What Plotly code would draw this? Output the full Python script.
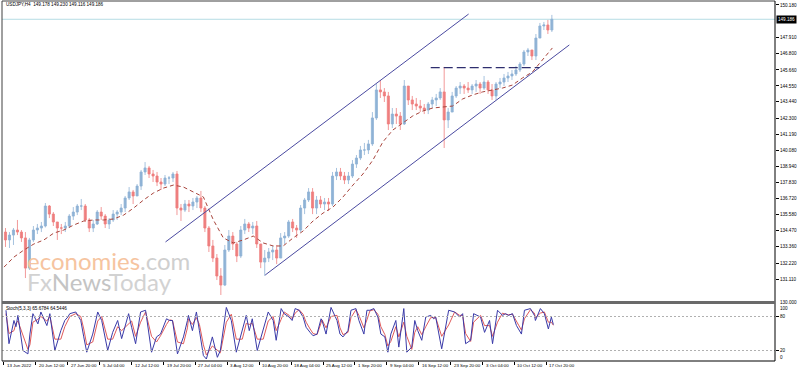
import plotly.graph_objects as go

# ---------------- data (USDJPY H4, one entry per 4-bar block) ----------------
opens = [134.38, 133.83, 134.17, 134.52, 134.38, 133.97, 131.87, 133.83, 134.52, 134.66,
         134.80, 136.19, 135.63, 135.08, 134.66, 134.66, 134.80, 135.49, 135.77, 136.19,
         136.19, 135.22, 134.66, 134.94, 135.77, 135.49, 134.94, 135.22, 135.63, 135.77,
         136.05, 136.75, 137.17, 136.89, 137.58, 138.56, 138.84, 138.42, 138.28, 137.86,
         137.72, 138.14, 138.14, 138.42, 136.05, 135.91, 136.33, 136.19, 136.47, 136.75,
         136.05, 134.66, 133.41, 132.57, 131.32, 130.69, 133.13, 134.10, 133.55, 132.71,
         134.52, 134.94, 134.66, 134.80, 133.55, 132.29, 132.57, 132.99, 133.13, 132.57,
         133.97, 134.10, 135.08, 134.66, 134.52, 136.05, 136.61, 137.17, 136.05, 136.61,
         136.33, 136.47, 136.33, 138.28, 138.56, 138.28, 138.00, 138.28, 139.11, 139.53,
         140.09, 140.09, 140.51, 142.32, 144.27, 144.13, 143.85, 141.90, 142.59, 142.45,
         141.90, 144.54, 143.57, 143.29, 143.15, 143.01, 142.87, 143.29, 143.57, 143.71,
         144.13, 142.18, 142.73, 143.85, 144.40, 144.54, 144.40, 144.27, 144.54, 144.68,
         144.40, 144.82, 144.27, 143.85, 144.68, 144.82, 145.10, 145.24, 145.38, 145.66,
         146.07, 146.91, 147.05, 146.63, 147.88, 148.72, 148.79, 148.44]
closes = [133.83, 134.17, 134.52, 134.38, 133.97, 131.87, 133.83, 134.52, 134.66, 134.80,
          136.19, 135.63, 135.08, 134.66, 134.66, 134.80, 135.49, 135.77, 136.19, 136.19,
          135.22, 134.66, 134.94, 135.77, 135.49, 134.94, 135.22, 135.63, 135.77, 136.05,
          136.75, 137.17, 136.89, 137.58, 138.56, 138.84, 138.42, 138.28, 137.86, 137.72,
          138.14, 138.14, 138.42, 136.05, 135.91, 136.33, 136.19, 136.47, 136.75, 136.05,
          134.66, 133.41, 132.57, 131.32, 130.69, 133.13, 134.10, 133.55, 132.71, 134.52,
          134.94, 134.66, 134.80, 133.55, 132.29, 132.57, 132.99, 133.13, 132.57, 133.97,
          134.10, 135.08, 134.66, 134.52, 136.05, 136.61, 137.17, 136.05, 136.61, 136.33,
          136.47, 136.33, 138.28, 138.56, 138.28, 138.00, 138.28, 139.11, 139.53, 140.09,
          140.09, 140.51, 142.32, 144.27, 144.13, 143.85, 141.90, 142.59, 142.45, 141.90,
          144.54, 143.57, 143.29, 143.15, 143.01, 142.87, 143.29, 143.57, 143.71, 144.13,
          142.18, 142.73, 143.85, 144.40, 144.54, 144.40, 144.27, 144.54, 144.68, 144.40,
          144.82, 144.27, 143.85, 144.68, 144.82, 145.10, 145.24, 145.38, 145.66, 146.07,
          146.91, 147.05, 146.63, 147.88, 148.72, 148.79, 148.44, 149.186]
highs = [134.66, 134.38, 134.66, 135.22, 134.52, 134.38, 133.97, 134.80, 134.94, 135.08,
         136.40, 136.26, 135.77, 135.08, 134.94, 135.08, 135.63, 136.12, 136.33, 136.68,
         136.33, 135.35, 135.22, 135.91, 136.12, 135.63, 135.35, 135.91, 135.91, 136.33,
         136.89, 137.51, 137.31, 137.72, 138.70, 139.25, 138.98, 138.70, 138.56, 138.14,
         138.35, 138.28, 138.56, 138.63, 136.33, 136.61, 136.61, 136.75, 136.89, 137.24,
         136.19, 134.80, 133.83, 132.85, 131.87, 133.48, 134.52, 134.38, 133.69, 134.80,
         135.29, 135.08, 135.08, 135.15, 133.55, 133.13, 133.27, 133.41, 133.48, 134.31,
         134.38, 135.22, 135.29, 134.87, 136.26, 136.75, 137.44, 137.44, 136.89, 136.89,
         136.75, 136.75, 138.56, 138.84, 138.84, 138.56, 138.56, 139.39, 139.74, 140.37,
         140.58, 140.79, 142.73, 144.68, 144.96, 144.40, 144.13, 143.01, 143.01, 142.73,
         144.96, 144.54, 143.85, 143.71, 143.57, 143.29, 143.43, 143.78, 143.99, 144.40,
         145.87, 143.01, 144.13, 144.54, 144.82, 144.68, 144.82, 144.68, 144.96, 144.82,
         145.24, 144.96, 144.68, 144.82, 145.10, 145.38, 145.52, 145.66, 145.94, 146.21,
         147.05, 147.19, 147.05, 148.16, 148.93, 149.00, 149.14, 149.49]
lows = [133.34, 133.27, 133.48, 134.17, 133.69, 131.18, 131.74, 133.69, 134.24, 134.38,
        134.70, 135.35, 134.80, 133.83, 134.24, 134.38, 134.66, 135.22, 135.56, 135.91,
        135.08, 134.38, 134.38, 134.87, 135.22, 134.66, 134.59, 135.08, 135.22, 135.56,
        135.77, 136.61, 136.33, 136.89, 137.31, 138.35, 138.14, 137.86, 137.58, 137.31,
        137.58, 137.72, 137.86, 135.56, 135.15, 135.77, 135.77, 135.91, 136.05, 135.77,
        134.38, 132.99, 132.29, 131.04, 130.00, 130.62, 132.99, 133.13, 132.29, 132.57,
        134.24, 134.38, 134.24, 133.27, 131.87, 131.32, 132.29, 132.43, 132.15, 132.57,
        133.55, 133.97, 134.38, 133.97, 134.38, 135.63, 136.47, 135.63, 135.63, 136.05,
        135.91, 135.84, 136.19, 138.00, 138.00, 137.72, 137.72, 138.14, 138.84, 139.39,
        139.74, 139.81, 140.37, 142.18, 143.71, 143.43, 141.48, 141.62, 141.90, 141.48,
        141.83, 143.22, 142.87, 142.87, 142.73, 142.59, 142.59, 143.01, 143.15, 143.57,
        140.23, 141.62, 142.73, 143.71, 143.99, 143.99, 144.06, 143.99, 144.13, 143.99,
        144.27, 143.99, 143.57, 143.57, 144.40, 144.54, 144.82, 144.96, 145.24, 145.52,
        145.94, 146.63, 146.35, 146.35, 147.88, 148.44, 148.16, 148.30]
candle_x = [1.5 + 4 * k for k in range(len(closes))]   # bar index of each 4-bar block

# moving average (red dashed), every 10 bars
ma_x = list(range(0, 551, 10))
ma_vals = [131.94, 132.64, 133.13, 133.55, 133.83, 134.31, 134.52, 134.87, 135.15, 135.22,
           135.22, 135.29, 135.56, 136.05, 136.61, 137.10, 137.44, 137.65, 137.51, 137.17,
           136.82, 135.22, 133.97, 133.62, 133.83, 134.10, 133.62, 133.41, 133.41, 133.97,
           134.45, 135.15, 135.70, 136.12, 136.82, 137.65, 138.42, 139.39, 140.65, 141.48,
           141.97, 142.46, 142.80, 143.01, 143.08, 143.15, 143.64, 143.92, 144.13, 144.27,
           144.40, 144.61, 145.10, 145.52, 146.35, 147.19]

# stochastic (5,3,3) turning points
stoch_x = [2, 5, 10, 12, 14, 19, 24, 26, 29, 34,
           37, 43, 46, 51, 57, 61, 64, 66, 72, 77,
           80, 83, 89, 94, 98, 104, 109, 114, 118, 125,
           128, 132, 137, 142, 148, 153, 157, 163, 166, 169,
           174, 180, 184, 185, 189, 193, 196, 200, 203, 209,
           214, 217, 223, 228, 233, 239, 243, 246, 249, 254,
           260, 265, 270, 273, 278, 281, 286, 289, 292, 296,
           300, 303, 307, 310, 314, 318, 319, 323, 328, 334,
           337, 340, 345, 348, 353, 356, 361, 364, 367, 371,
           375, 378, 382, 385, 388, 393, 396, 401, 404, 409,
           412, 415, 419, 423, 428, 431, 433, 439, 446, 452,
           457, 460, 463, 468, 471, 478, 482, 487, 490, 495,
           500, 503, 506, 510, 514, 519, 522, 528, 532, 533,
           538, 542, 546, 549, 551]
stoch_k = [91, 32, 73, 62, 82, 20, 14, 49, 85, 67,
           88, 64, 85, 20, 55, 73, 79, 85, 88, 73,
           44, 17, 49, 88, 73, 20, 52, 73, 41, 85,
           61, 32, 88, 91, 17, 44, 49, 76, 73, 73,
           14, 44, 73, 82, 55, 88, 55, 11, 5, 44,
           8, 20, 96, 73, 17, 55, 82, 55, 76, 20,
           55, 88, 73, 38, 94, 85, 79, 73, 94, 91,
           79, 61, 52, 46, 49, 76, 73, 49, 96, 73,
           49, 44, 55, 91, 94, 73, 49, 91, 91, 94,
           79, 49, 44, 17, 49, 73, 26, 94, 17, 26,
           73, 55, 38, 79, 82, 76, 79, 23, 91, 88,
           79, 85, 32, 38, 85, 79, 52, 73, 32, 91,
           82, 85, 82, 85, 64, 49, 91, 94, 82, 73,
           94, 85, 58, 79, 65.68]
stoch_d = [85, 50, 55, 68, 72, 45, 22, 30, 70, 75,
           80, 72, 80, 40, 40, 62, 74, 80, 85, 80,
           58, 30, 35, 72, 80, 40, 40, 62, 55, 68,
           72, 45, 70, 88, 45, 35, 46, 66, 74, 73,
           35, 32, 60, 76, 66, 78, 66, 30, 12, 28,
           20, 16, 70, 84, 40, 40, 68, 66, 68, 40,
           40, 72, 80, 55, 75, 88, 82, 76, 86, 92,
           84, 70, 58, 50, 48, 66, 74, 60, 80, 82,
           60, 48, 52, 78, 92, 82, 60, 74, 90, 92,
           84, 62, 48, 28, 36, 62, 44, 70, 45, 22,
           52, 62, 48, 62, 78, 78, 78, 45, 65, 88,
           82, 82, 50, 36, 70, 82, 64, 64, 45, 70,
           86, 84, 83, 84, 72, 56, 76, 92, 86, 78,
           86, 88, 70, 70, 64.54]

# drawn objects (bar index, price)
upper_x = [162, 466]
upper_y = [133.69, 149.55]
lower_x = [262, 567]
lower_y = [131.39, 147.40]
level_x = [428, 537]
level_y = [145.82, 145.82]
last_price = 149.186

price_ticks = [150.180, 147.910, 146.800, 145.660, 144.550, 143.440, 142.300, 141.190, 140.080,
               138.940, 137.830, 136.720, 135.580, 134.470, 133.360, 132.220, 131.110]
date_tick_bars = [32 * k for k in range(18)]
date_labels = ["13 Jun 2022", "20 Jun 12:00", "27 Jun 20:00", "5 Jul 04:00", "12 Jul 12:00",
               "19 Jul 20:00", "27 Jul 04:00", "3 Aug 12:00", "10 Aug 20:00", "18 Aug 04:00",
               "25 Aug 12:00", "1 Sep 20:00", "9 Sep 04:00", "16 Sep 12:00", "23 Sep 20:00",
               "3 Oct 04:00", "10 Oct 12:00", "17 Oct 20:00"]

# ---------------- styling ----------------
UP = "#8fb3d6"
DOWN = "#ef7f7f"
FONT = "Liberation Sans, Arial, sans-serif"
W, H = 798, 372
ML, MR, MT, MB = 2, 23, 1, 11
PH = H - MT - MB


def py(pix_y):
    """pixel row -> paper y"""
    return (H - MB - pix_y) / PH


fig = go.Figure()
fig.add_trace(go.Candlestick(
    x=candle_x, open=opens, high=highs, low=lows, close=closes,
    xaxis="x", yaxis="y", whiskerwidth=0,
    increasing=dict(line=dict(color=UP, width=0.8), fillcolor=UP),
    decreasing=dict(line=dict(color=DOWN, width=0.8), fillcolor=DOWN),
    showlegend=False, hoverinfo="skip"))
fig.add_trace(go.Scatter(x=ma_x, y=ma_vals, mode="lines", xaxis="x", yaxis="y",
                         line=dict(color="#a8443c", width=1, dash="4px,3px"),
                         showlegend=False, hoverinfo="skip"))
for xs, ys in ((upper_x, upper_y), (lower_x, lower_y)):
    fig.add_trace(go.Scatter(x=xs, y=ys, mode="lines", xaxis="x", yaxis="y",
                             line=dict(color="#4a4aa0", width=1),
                             showlegend=False, hoverinfo="skip"))
fig.add_trace(go.Scatter(x=level_x, y=level_y, mode="lines", xaxis="x", yaxis="y",
                         line=dict(color="#2e2e6e", width=1.3, dash="9px,4px"),
                         showlegend=False, hoverinfo="skip"))
fig.add_trace(go.Scatter(x=stoch_x, y=stoch_d, mode="lines", xaxis="x", yaxis="y2",
                         line=dict(color="#e05a5a", width=1),
                         showlegend=False, hoverinfo="skip"))
fig.add_trace(go.Scatter(x=stoch_x, y=stoch_k, mode="lines", xaxis="x", yaxis="y2",
                         line=dict(color="#3a3aa8", width=1),
                         showlegend=False, hoverinfo="skip"))

main_bottom_pix = 301
ind_top_pix = 304
tickfont = dict(family=FONT, size=4.6, color="#000000")
datefont = dict(family=FONT, size=4.4, color="#000000")

annotations = []
for b, lab in zip(date_tick_bars, date_labels):
    annotations.append(dict(x=b, xref="x", y=py(365), yref="paper", text=lab, showarrow=False,
                            xanchor="left", yanchor="middle", xshift=1, font=datefont))
annotations += [
    dict(x=0, xref="paper", y=py(5), yref="paper", xanchor="left", yanchor="middle", xshift=2,
         text="USDJPY,H4  149.178 149.230 149.116 149.186", showarrow=False, font=tickfont),
    dict(x=0, xref="paper", y=py(308), yref="paper", xanchor="left", yanchor="middle", xshift=2,
         text="Stoch(5,3,3) 65.6784 64.5446", showarrow=False, font=tickfont),
    dict(x=1, xref="paper", y=last_price, yref="y", xanchor="left", yanchor="middle", xshift=1,
         text="149.186", showarrow=False, bgcolor="#000000", borderpad=1,
         font=dict(family=FONT, size=4.6, color="#ffffff")),
    dict(x=1, xref="paper", y=py(302), yref="paper", xanchor="left", yanchor="middle", xshift=3,
         text="130.000", showarrow=False, font=tickfont),
    dict(x=1, xref="paper", y=py(308), yref="paper", xanchor="left", yanchor="middle", xshift=3,
         text="100", showarrow=False, font=tickfont),
    dict(x=1, xref="paper", y=py(357), yref="paper", xanchor="left", yanchor="middle", xshift=3,
         text="0", showarrow=False, font=tickfont),
    dict(x=0, xref="paper", y=py(260), yref="paper", xanchor="left", yanchor="middle", xshift=23,
         text="<span style='color:#f6c4a0'>economies</span><span style='color:#cfcfcf'>.com</span>",
         showarrow=False, font=dict(family="Lato, sans-serif", size=24)),
    dict(x=0, xref="paper", y=py(281), yref="paper", xanchor="left", yanchor="middle", xshift=23,
         text="<span style='color:#d2d2d2'>Fx</span>"
              "<span style='color:#c4c4c4'>News</span><span style='color:#d2d2d2'>Today</span>",
         showarrow=False, font=dict(family="Lato, sans-serif", size=24)),
]

shapes = [
    # current price line
    dict(type="line", xref="paper", x0=0, x1=1, yref="y", y0=last_price, y1=last_price,
         line=dict(color="#b5dce4", width=1), layer="below"),
    # stochastic levels
    dict(type="line", xref="paper", x0=0, x1=1, yref="y2", y0=80, y1=80,
         line=dict(color="#b0b0b0", width=1, dash="2px,2px")),
    dict(type="line", xref="paper", x0=0, x1=1, yref="y2", y0=20, y1=20,
         line=dict(color="#b0b0b0", width=1, dash="2px,2px")),
    # frame
    dict(type="line", xref="paper", x0=0, x1=0, yref="paper", y0=0, y1=1,
         line=dict(color="#404040", width=1)),
    dict(type="line", xref="paper", x0=0, x1=1, yref="paper", y0=1, y1=1,
         line=dict(color="#404040", width=1)),
    dict(type="line", xref="paper", x0=1, x1=1, yref="paper", y0=0, y1=1,
         line=dict(color="#000000", width=1)),
    dict(type="line", xref="paper", x0=0, x1=1, yref="paper", y0=0, y1=0,
         line=dict(color="#000000", width=1)),
    dict(type="rect", xref="paper", x0=0, x1=1, yref="paper",
         y0=py(ind_top_pix), y1=py(main_bottom_pix),
         fillcolor="#6a6a6a", line=dict(width=0)),
]

fig.update_layout(
    width=W, height=H, margin=dict(l=ML, r=MR, t=MT, b=MB, pad=0),
    paper_bgcolor="#ffffff", plot_bgcolor="#ffffff", showlegend=False,
    boxgap=0.25,
    xaxis=dict(domain=[0, 1], range=[-2, 773.3], anchor="y2", showgrid=False, zeroline=False,
               showline=False, tickvals=date_tick_bars, showticklabels=False, ticks="outside",
               ticklen=3, tickcolor="#000000", rangeslider=dict(visible=False), fixedrange=True),
    yaxis=dict(domain=[py(main_bottom_pix), 1], range=[129.581, 150.458], side="right",
               anchor="x", showgrid=False, zeroline=False, showline=False,
               tickvals=price_ticks, ticktext=[f"{v:.3f}" for v in price_ticks],
               ticks="outside", ticklen=3, tickcolor="#000000", tickfont=tickfont),
    yaxis2=dict(domain=[0, py(ind_top_pix)], range=[1.47, 102.06], side="right", anchor="x",
                showgrid=False, zeroline=False, showline=False, tickvals=[80, 20],
                ticktext=["80", "20"], ticks="outside", ticklen=3, tickcolor="#000000",
                tickfont=tickfont),
    annotations=annotations, shapes=shapes,
)

fig.write_html("out.html", config={"displayModeBar": False, "staticPlot": True},
               post_script="document.body.style.margin='0px';document.body.style.overflow='hidden';")
